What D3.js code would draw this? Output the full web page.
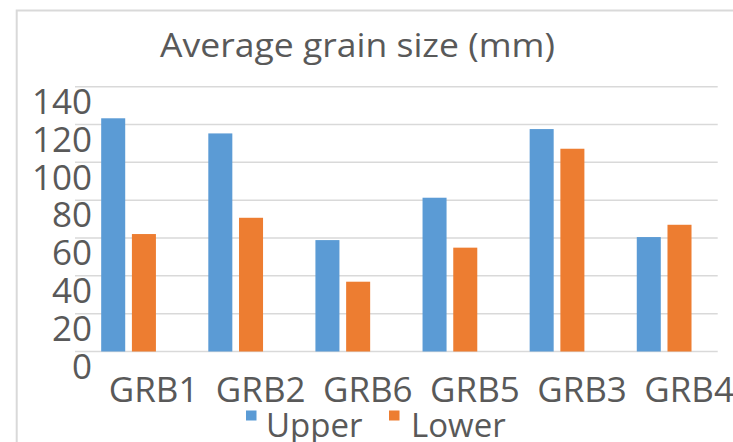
<!DOCTYPE html>
<html>
<head>
<meta charset="utf-8">
<script src="https://cdn.jsdelivr.net/npm/d3@7"></script>
<style>
  html, body { margin: 0; padding: 0; background: #fff; }
  svg { display: block; }
  text { font-family: "Open Sans", sans-serif; fill: #595959; }
</style>
</head>
<body>
<svg id="chart" width="733" height="442"></svg>
<script>
// Chart data
const categories = ["GRB1", "GRB2", "GRB6", "GRB5", "GRB3", "GRB4"];
const seriesNames = ["Upper", "Lower"];
const upperValues = [123.3, 115.3, 58.9, 81.3, 117.6, 60.5];
const lowerValues = [62.1, 70.7, 36.9, 54.9, 107.2, 67.0];
const yTicks = [0, 20, 40, 60, 80, 100, 120, 140];
const titleText = "Average grain size (mm)";

const colors = { Upper: "#5B9BD5", Lower: "#ED7D31" };
const seriesValues = { Upper: upperValues, Lower: lowerValues };

const svg = d3.select("#chart");
const W = 733, H = 442;
const plot = { left: 75, right: 717.7, top: 86.7, bottom: 351.5 };

// Chart frame (light border on top and left)
svg.append("path")
  .attr("d", `M16.7,${H} L16.7,10.5 L${W},10.5`)
  .attr("fill", "none")
  .attr("stroke", "#d9d9d9")
  .attr("stroke-width", 2);

// Scales
const x0 = d3.scaleBand()
  .domain(categories)
  .range([plot.left, plot.right])
  .paddingInner(0.489)
  .paddingOuter(0.2445);

const x1 = d3.scaleBand()
  .domain(seriesNames)
  .range([0, x0.bandwidth()])
  .paddingInner(0.218)
  .paddingOuter(0);

const y = d3.scaleLinear()
  .domain([0, 140])
  .range([plot.bottom, plot.top]);

// Horizontal gridlines
svg.append("g")
  .selectAll("line")
  .data(yTicks)
  .join("line")
  .attr("x1", plot.left)
  .attr("x2", plot.right)
  .attr("y1", d => y(d))
  .attr("y2", d => y(d))
  .attr("stroke", "#d9d9d9")
  .attr("stroke-width", 1.5);

// Y axis labels
const yAxis = d3.axisLeft(y).tickValues(yTicks).tickSize(0).tickPadding(0);
const yG = svg.append("g")
  .attr("transform", `translate(92,0)`)
  .call(yAxis);
yG.select(".domain").remove();
yG.selectAll("text")
  .attr("font-family", "'Open Sans', sans-serif")
  .attr("font-size", 35)
  .attr("fill", "#595959")
  .attr("dy", 26.7)
  .attr("x", 0)
  .attr("text-anchor", "end");

// Bars
const groups = svg.append("g")
  .selectAll("g")
  .data(categories)
  .join("g")
  .attr("transform", d => `translate(${x0(d)},0)`);

groups.selectAll("rect")
  .data((c, i) => seriesNames.map(s => ({ series: s, value: seriesValues[s][i] })))
  .join("rect")
  .attr("x", d => x1(d.series))
  .attr("width", x1.bandwidth())
  .attr("y", d => y(d.value))
  .attr("height", d => y(0) - y(d.value))
  .attr("fill", d => colors[d.series]);

// Category labels
const xAxis = d3.axisBottom(x0).tickSize(0).tickPadding(0);
const xG = svg.append("g")
  .attr("transform", `translate(25,0)`)
  .call(xAxis);
xG.select(".domain").remove();
xG.selectAll("text")
  .attr("font-family", "'Open Sans', sans-serif")
  .attr("font-size", 35)
  .attr("fill", "#595959")
  .attr("y", 401.7)
  .attr("dy", 0);

// Title
const title = svg.append("text")
  .attr("x", 357.5)
  .attr("y", 57.5)
  .attr("text-anchor", "middle")
  .attr("font-size", 33)
  .text(titleText);
const tw = title.node().getComputedTextLength();
const targetW = 395;
if (tw > 0) {
  const s = targetW / tw;
  title.attr("transform", `translate(${357.5 * (1 - s)},0) scale(${s},1)`);
}

// Legend
const legend = [
  { name: "Upper", sx: 246, tx: 266 },
  { name: "Lower", sx: 389, tx: 411 }
];
const lg = svg.append("g");
lg.selectAll("rect")
  .data(legend)
  .join("rect")
  .attr("x", d => d.sx)
  .attr("y", 410.5)
  .attr("width", 10.5)
  .attr("height", 10)
  .attr("fill", d => colors[d.name]);
lg.selectAll("text")
  .data(legend)
  .join("text")
  .attr("x", d => d.tx)
  .attr("y", 436.7)
  .attr("font-size", 33)
  .text(d => d.name);
</script>
</body>
</html>
